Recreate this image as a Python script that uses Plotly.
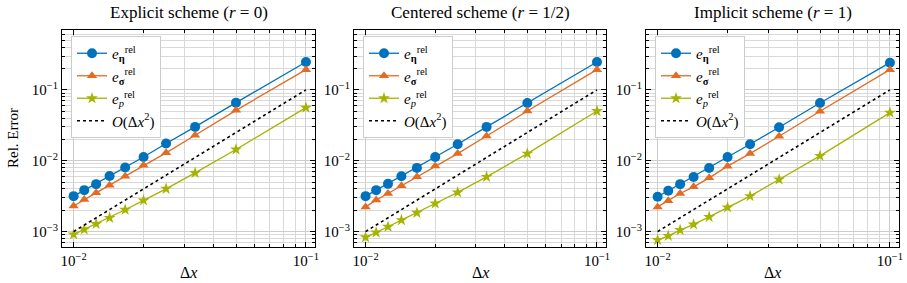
import plotly.graph_objects as go

# ---------------- data ----------------
dx = [0.01, 0.011111, 0.0125, 0.0142857, 0.0166667, 0.02, 0.025, 0.0333333, 0.05, 0.1]

titles = ["Explicit scheme (<i>r</i> = 0)",
          "Centered scheme (<i>r</i> = 1/2)",
          "Implicit scheme (<i>r</i> = 1)"]

eta_explicit = [0.00316, 0.00384, 0.00467, 0.0061, 0.0080, 0.0113, 0.0175, 0.0300, 0.066, 0.247]
sig_explicit = [0.00229, 0.00284, 0.00352, 0.00452, 0.00605, 0.00865, 0.0129, 0.0229, 0.0514, 0.193]
p_explicit = [0.00091, 0.00107, 0.00128, 0.00156, 0.00203, 0.00275, 0.00401, 0.00673, 0.0144, 0.0561]

eta_centered = [0.00316, 0.00384, 0.00471, 0.00605, 0.00792, 0.0113, 0.0171, 0.0300, 0.0652, 0.247]
sig_centered = [0.00223, 0.00278, 0.00345, 0.00442, 0.00592, 0.00845, 0.0126, 0.0223, 0.0502, 0.193]
p_centered = [0.00083, 0.00097, 0.00117, 0.00145, 0.00184, 0.00249, 0.00357, 0.00592, 0.0126, 0.0502]

eta_implicit = [0.0031, 0.00377, 0.00467, 0.0059, 0.0079, 0.0113, 0.0171, 0.0297, 0.0652, 0.242]
sig_implicit = [0.00223, 0.00272, 0.00345, 0.00428, 0.00573, 0.00838, 0.0126, 0.0221, 0.0498, 0.193]
p_implicit = [0.00076, 0.00087, 0.00105, 0.00126, 0.00161, 0.00219, 0.00316, 0.00543, 0.0117, 0.0477]

ref_order2 = [0.001, 0.0012346, 0.0015625, 0.0020408, 0.0027778, 0.004, 0.00625, 0.0111111, 0.025, 0.1]

x_tickvals = [0.01, 0.1]
x_ticktext = ["10<sup>−2</sup>", "10<sup>−1</sup>"]
y_tickvals = [0.001, 0.01, 0.1]
y_ticktext = ["10<sup>−3</sup>", "10<sup>−2</sup>", "10<sup>−1</sup>"]

names = ["<i>e</i><sub><b>η</b></sub><sup>rel</sup>",
         "<i>e</i><sub><b>σ</b></sub><sup>rel</sup>",
         "<i>e</i><sub><i>p</i></sub><sup>rel</sup>",
         "<i>O</i>(Δ<i>x</i><sup>2</sup>)"]

# ---------------- style ----------------
W, H = 907, 283
FONT = "Liberation Serif"
colors = ["#0072BD", "#E36B22", "#A6B300"]
symbols = ["circle", "triangle-up", "star"]
msizes = [10, 9, 9]

panels_px = [(62, 315), (354, 606), (646, 899)]
top_px, bot_px = 29.5, 247
xrange_log = [-2.050, -0.961]
yrange_log = [-3.218, -0.148]

series = [(eta_explicit, sig_explicit, p_explicit),
          (eta_centered, sig_centered, p_centered),
          (eta_implicit, sig_implicit, p_implicit)]

minor_x = [k * 10.0 ** e for e in (-3, -2, -1) for k in range(2, 10)]
minor_y = [k * 10.0 ** e for e in (-4, -3, -2, -1) for k in range(2, 10)]

fig = go.Figure()
layout = dict(
    width=W, height=H,
    margin=dict(l=0, r=0, t=0, b=0),
    paper_bgcolor="white", plot_bgcolor="white",
    font=dict(family=FONT, size=15, color="black"),
    showlegend=True,
    annotations=[],
)

for i, (sers, (xl, xr)) in enumerate(zip(series, panels_px)):
    sfx = "" if i == 0 else str(i + 1)
    leg = "legend" + sfx
    for j, ys in enumerate(sers):
        fig.add_trace(go.Scatter(
            x=dx, y=ys, mode="lines+markers", name=names[j],
            line=dict(color=colors[j], width=1.3),
            marker=dict(symbol=symbols[j], size=msizes[j], color=colors[j],
                        line=dict(width=0)),
            xaxis="x" + sfx, yaxis="y" + sfx, legend=leg,
        ))
    fig.add_trace(go.Scatter(
        x=dx, y=ref_order2, mode="lines", name=names[3],
        line=dict(color="black", width=1.6, dash="dot"),
        xaxis="x" + sfx, yaxis="y" + sfx, legend=leg,
    ))

    common = dict(
        type="log", showline=True, linecolor="black", linewidth=1,
        mirror="allticks", ticks="inside", ticklen=5, tickcolor="black",
        showgrid=True, gridcolor="#cdcdcd", gridwidth=1, zeroline=False,
        automargin=False, tickfont=dict(family=FONT, size=15),
    )
    layout["xaxis" + sfx] = dict(
        common, range=xrange_log, domain=[xl / W, xr / W],
        anchor="y" + sfx, tickvals=x_tickvals, ticktext=x_ticktext,
        minor=dict(tickvals=minor_x, ticks="inside", ticklen=3, tickcolor="black",
                   showgrid=True, gridcolor="#d9d9d9", gridwidth=1),
    )
    layout["yaxis" + sfx] = dict(
        common, range=yrange_log, domain=[1 - bot_px / H, 1 - top_px / H],
        anchor="x" + sfx, tickvals=y_tickvals, ticktext=y_ticktext,
        minor=dict(tickvals=minor_y, ticks="inside", ticklen=3, tickcolor="black",
                   showgrid=True, gridcolor="#d9d9d9", gridwidth=1),
    )
    layout[leg] = dict(
        x=(xl + 9) / W, y=1 - 36 / H, xanchor="left", yanchor="top",
        xref="paper", yref="paper",
        bgcolor="white", bordercolor="#cccccc", borderwidth=1,
        font=dict(family=FONT, size=15), tracegroupgap=0,
        itemwidth=30,
    )
    cx = (xl + xr) / 2 / W
    layout["annotations"].append(dict(
        text=titles[i], x=cx, y=1 - 12.5 / H, xref="paper", yref="paper",
        showarrow=False, xanchor="center", yanchor="middle",
        font=dict(family=FONT, size=17)))
    layout["annotations"].append(dict(
        text="Δ<i>x</i>", x=cx, y=1 - 272 / H, xref="paper", yref="paper",
        showarrow=False, xanchor="center", yanchor="middle",
        font=dict(family=FONT, size=16)))

layout["annotations"].append(dict(
    text="Rel. Error", x=13 / W, y=1 - 138 / H, xref="paper", yref="paper",
    showarrow=False, xanchor="center", yanchor="middle", textangle=-90,
    font=dict(family=FONT, size=15)))

fig.update_layout(**layout)
fig.write_html("out.html")
